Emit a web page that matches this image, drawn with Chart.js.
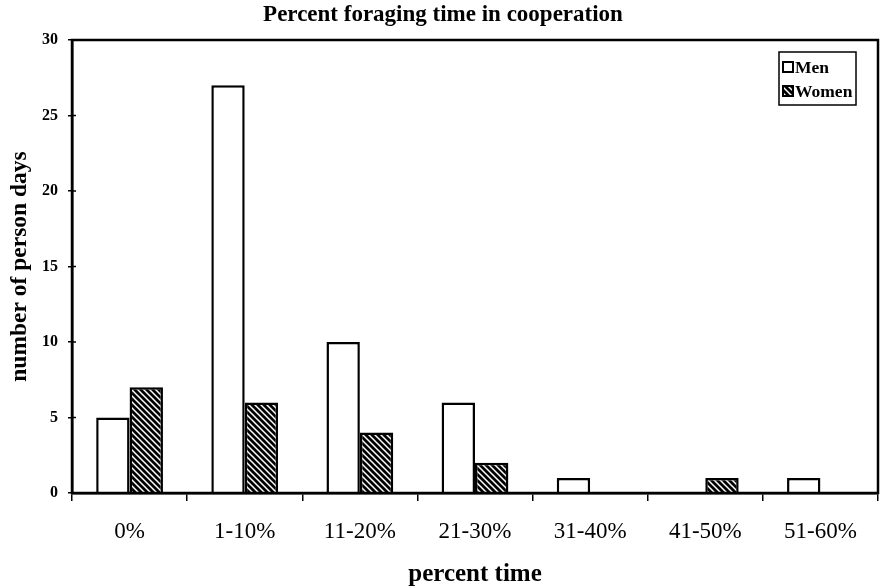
<!DOCTYPE html>
<html>
<head>
<meta charset="utf-8">
<script src="https://cdn.jsdelivr.net/npm/chart.js@4/dist/chart.umd.min.js"></script>
<style>
  html, body { margin: 0; padding: 0; background: #fff; }
  #wrap { width: 881px; height: 587px; }
</style>
</head>
<body>
<div id="wrap"><canvas id="c" width="881" height="587"></canvas></div>
<script>
var categories = ['0%', '1-10%', '11-20%', '21-30%', '31-40%', '41-50%', '51-60%'];
var men = [5, 27, 10, 6, 1, 0, 1];
var women = [7, 6, 4, 2, 0, 1, 0];
var yTicks = [0, 5, 10, 15, 20, 25, 30];

var SERIF = '"Liberation Serif", "DejaVu Serif", serif';

// black with white "\" stripes
function hatch() {
  var p = document.createElement('canvas');
  p.width = 6; p.height = 6;
  var g = p.getContext('2d');
  g.fillStyle = '#000';
  g.fillRect(0, 0, 6, 6);
  g.strokeStyle = '#fff';
  g.lineWidth = 1.5;
  g.beginPath();
  g.moveTo(0, 0); g.lineTo(6, 6);
  g.moveTo(-3, 3); g.lineTo(3, 9);
  g.moveTo(3, -3); g.lineTo(9, 3);
  g.stroke();
  return g.createPattern(p, 'repeat');
}

var frame = {
  id: 'frame',
  afterDraw: function (chart) {
    var ctx = chart.ctx, a = chart.chartArea;
    ctx.save();
    ctx.strokeStyle = '#000';
    ctx.lineWidth = 2.5;
    ctx.strokeRect(a.left, a.top, a.right - a.left, a.bottom - a.top);
    // inner half of y ticks
    var y = chart.scales.y;
    ctx.lineWidth = 1.5;
    ctx.beginPath();
    yTicks.forEach(function (v) {
      var py = y.getPixelForValue(v);
      ctx.moveTo(a.left, py); ctx.lineTo(a.left + 4, py);
    });
    ctx.stroke();
    // legend
    var lx = a.right - 99, ly = a.top + 12, lw = 77, lh = 53;
    ctx.fillStyle = '#fff';
    ctx.fillRect(lx, ly, lw, lh);
    ctx.lineWidth = 1.5;
    ctx.strokeRect(lx, ly, lw, lh);
    var items = [{t: 'Men', f: '#fff'}, {t: 'Women', f: chart.data.datasets[1].backgroundColor}];
    ctx.font = 'bold 17.5px ' + SERIF;
    ctx.textBaseline = 'middle';
    items.forEach(function (it, i) {
      var cy = ly + 15 + i * 24;
      ctx.fillStyle = it.f;
      ctx.fillRect(lx + 4, cy - 5, 10, 10);
      ctx.lineWidth = 2;
      ctx.strokeRect(lx + 4, cy - 5, 10, 10);
      ctx.fillStyle = '#000';
      ctx.fillText(it.t, lx + 16, cy + 1);
    });
    ctx.restore();
  }
};

var chart = new Chart(document.getElementById('c'), {
  type: 'bar',
  data: {
    labels: categories,
    datasets: [
      {label: 'Men', data: men, backgroundColor: '#fff', borderColor: '#000', borderWidth: 2.5,
       categoryPercentage: 0.58, barPercentage: 1.0},
      {label: 'Women', data: women, backgroundColor: hatch(), borderColor: '#000', borderWidth: 2.5,
       categoryPercentage: 0.58, barPercentage: 1.0}
    ]
  },
  options: {
    responsive: false,
    animation: false,
    layout: {padding: {left: 8, right: 3, top: 0, bottom: 0}},
    plugins: {
      legend: {display: false},
      tooltip: {enabled: false},
      title: {
        display: true,
        text: 'Percent foraging time in cooperation',
        color: '#000',
        font: {family: SERIF, size: 23, weight: 'bold', lineHeight: 1.2},
        padding: {top: 1, bottom: 11.4}
      }
    },
    scales: {
      x: {
        grid: {display: true, drawOnChartArea: false, drawTicks: true, tickLength: 8, color: '#000', lineWidth: 1.5, offset: true},
        border: {display: true, color: '#000', width: 2.5},
        ticks: {color: '#000', font: {family: SERIF, size: 23, lineHeight: 1.2}, padding: 16.7},
        title: {display: true, text: 'percent time', color: '#000',
                font: {family: SERIF, size: 25, weight: 'bold', lineHeight: 1.0}, padding: {top: 0, bottom: 0}}
      },
      y: {
        min: 0, max: 30,
        afterBuildTicks: function (s) { s.ticks = yTicks.map(function (v) { return {value: v}; }); },
        grid: {display: true, drawOnChartArea: false, drawTicks: true, tickLength: 4, color: '#000', lineWidth: 1.5},
        border: {display: true, color: '#000', width: 2.5},
        ticks: {color: '#000', font: {family: SERIF, size: 16, weight: 'bold'}, padding: 10},
        title: {display: true, text: 'number of person days', color: '#000',
                font: {family: SERIF, size: 23.5, weight: 'bold', lineHeight: 1.0}, padding: {top: 0, bottom: 0.5}}
      }
    }
  },
  plugins: [frame]
});
</script>
</body>
</html>
